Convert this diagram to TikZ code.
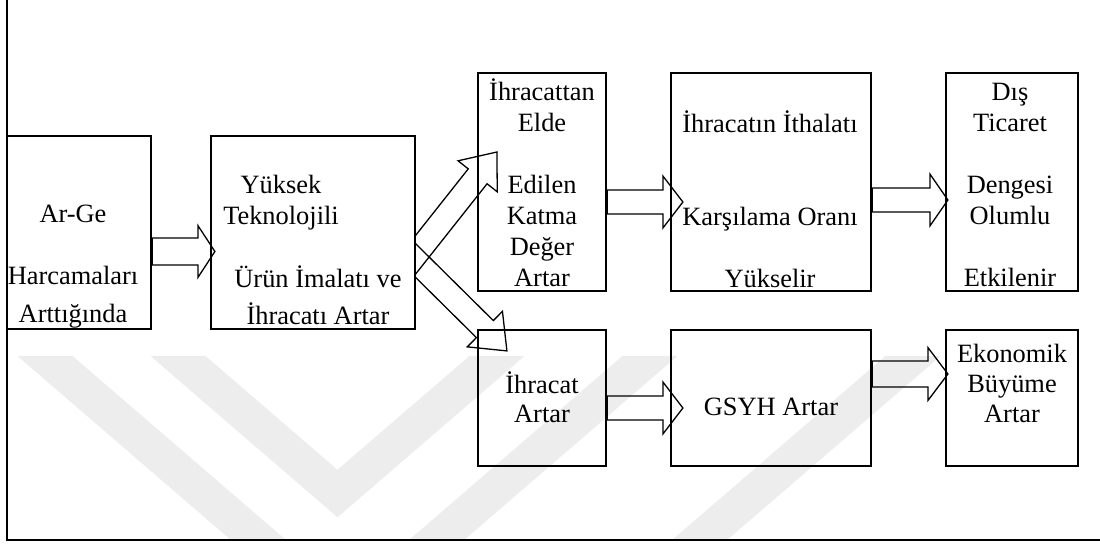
\documentclass[tikz,border=0pt]{standalone}
\usepackage{fontspec}
\setmainfont{Liberation Serif}
\usetikzlibrary{calc}
\newcommand\blockarrow[5]{%
  \draw[barrow] let \p1=(#1), \p2=(#2),
      \n1={atan2(\y2-\y1,\x2-\x1)}, \n2={veclen(\x2-\x1,\y2-\y1)} in
    ($(\p1)+(\n1+90:#3)$) -- ($(\p1)+(\n1:{\n2*1pt-#5})+(\n1+90:#3)$)
    -- ($(\p1)+(\n1:{\n2*1pt-#5})+(\n1+90:#4)$) -- (\p2)
    -- ($(\p1)+(\n1:{\n2*1pt-#5})+(\n1-90:#4)$)
    -- ($(\p1)+(\n1:{\n2*1pt-#5})+(\n1-90:#3)$)
    -- ($(\p1)+(\n1-90:#3)$) -- cycle;
}
\tikzset{
  box/.style={draw, line width=2.2pt, inner sep=0pt},
  txt/.style={align=center, inner sep=0pt, anchor=north, font=\fontsize{26.4pt}{31pt}\selectfont},
  barrow/.style={draw, line width=1.3pt, line join=miter},
  wm/.style={line width=36pt, draw=black!7},
  frame/.style={line width=2.2pt}
}
\begin{document}
\begin{tikzpicture}[x=1pt,y=-1pt]
\useasboundingbox (0,0) rectangle (1100,544);
% watermark
\begin{scope}
  \clip (7,356) rectangle (1100,540);
  \draw[wm] (-13,306) -- (335,606);
  \draw[wm, line join=miter] (120,306) -- (337.5,493.5) -- (555,306);
  \draw[wm] (708,306) -- (360,606);
  \draw[wm] (971,306) -- (623,606);
\end{scope}
% frame
\draw[frame] (7,0) -- (7,540) -- (1100,540);
% boxes
\node[box, minimum width=144pt, minimum height=193pt] (A) at (79,232.5) {};
\node[box, minimum width=204pt, minimum height=193pt] (B) at (313,232.5) {};
\node[box, minimum width=128pt, minimum height=218pt] (C) at (542,182) {};
\node[box, minimum width=200pt, minimum height=218pt] (D) at (771,182) {};
\node[box, minimum width=132pt, minimum height=218pt] (E) at (1012,182) {};
\node[box, minimum width=128pt, minimum height=136pt] (F) at (542,398) {};
\node[box, minimum width=200pt, minimum height=136pt] (G) at (771,398) {};
\node[box, minimum width=132pt, minimum height=136pt] (H) at (1012,398) {};
% texts
\node[txt] (At) at (73,200.3) {\strut Ar-Ge\\[31pt]Harcamaları\\[7pt]Arttığında};
\node[txt] (Bt1) at (281,171.3) {\strut Yüksek\\Teknolojili};
\node[txt] (Bt2) at (318,265.3) {\strut Ürün İmalatı ve\\[5pt]İhracatı Artar};
\node[txt] (Ct) at (542,78.3) {\strut İhracattan\\Elde\\[31pt]Edilen\\Katma\\Değer\\Artar};
\node[txt] (Dt) at (770,78.3) {\strut\\İhracatın İthalatı\\[62pt]Karşılama Oranı\\[31pt]Yükselir};
\node[txt] (Et) at (1010,78.3) {\strut Dış\\Ticaret\\[31pt]Dengesi\\Olumlu\\[31pt]Etkilenir};
\node[txt] (Ft) at (542,371.3) {\strut İhracat\\[-2pt]Artar};
\node[txt] (Gt) at (771,393.3) {\strut GSYH Artar};
\node[txt] (Ht) at (1012,340.3) {\strut Ekonomik\\[-1pt]Büyüme\\[-1pt]Artar};
% arrow end points
\coordinate (abS) at ($(A.east)+(0,19)$);
\coordinate (abT) at ($(B.west)+(5,19)$);
\coordinate (cdS) at ($(C.east)+(0,20)$);
\coordinate (cdT) at ($(D.west)+(13,20)$);
\coordinate (deS) at ($(D.east)+(0,18)$);
\coordinate (deT) at ($(E.west)+(3,18)$);
\coordinate (fgS) at ($(F.east)+(0,10)$);
\coordinate (fgT) at ($(G.west)+(13,10)$);
\coordinate (ghS) at ($(G.east)+(0,-24)$);
\coordinate (ghT) at ($(H.west)+(3,-24)$);
\coordinate (upS) at ($(B.east)+(-15.5,41.2)$);
\coordinate (upT) at ($(C.west)+(20,-30)$);
\coordinate (dnS) at ($(B.east)+(-17.3,11.4)$);
\coordinate (dnT) at ($(F.north west)+(30,22)$);
% block arrows
\blockarrow{abS}{abT}{13.5pt}{26pt}{17pt}
\blockarrow{cdS}{cdT}{12pt}{26pt}{20pt}
\blockarrow{deS}{deT}{12pt}{26pt}{18pt}
\blockarrow{fgS}{fgT}{12pt}{26pt}{20pt}
\blockarrow{ghS}{ghT}{13pt}{26.5pt}{20pt}
\begin{scope}
  \clip (B.east |- 0,0) rectangle (1100,544);
  \blockarrow{upS}{upT}{12pt}{25pt}{31pt}
  \blockarrow{dnS}{dnT}{12pt}{25pt}{31pt}
\end{scope}
\end{tikzpicture}
\end{document}
